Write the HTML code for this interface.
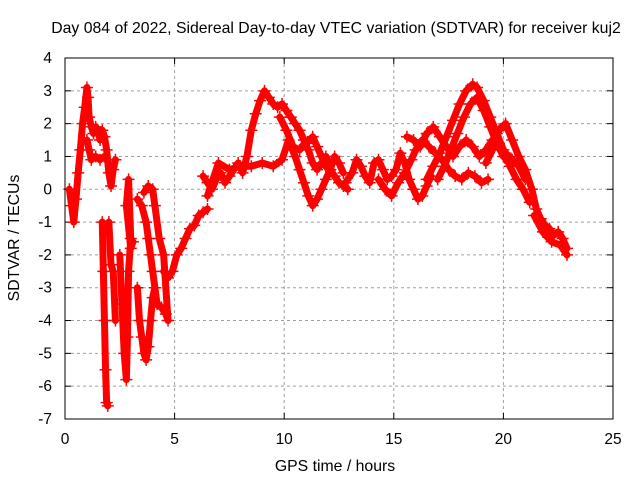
<!DOCTYPE html>
<html><head><meta charset="utf-8"><style>
body{margin:0;background:#fff;}
svg{display:block;font-family:"Liberation Sans",sans-serif;}
</style></head><body>
<svg id="chart" width="640" height="480">
<text x="336" y="33" font-size="15.8" text-anchor="middle">Day 084 of 2022, Sidereal Day-to-day VTEC variation (SDTVAR) for receiver kuj2</text>
<text x="335" y="471" font-size="15.8" text-anchor="middle">GPS time / hours</text>
<text transform="translate(19,238) rotate(-90)" font-size="15.8" text-anchor="middle">SDTVAR / TECUs</text>
<g id="grid"></g><g id="ticks"></g><g id="marks"></g>
<rect x="65" y="58" width="548" height="361" fill="none" stroke="#000" stroke-width="1"/>
</svg>
<script>
const xTicks=[0,5,10,15,20,25];
const yTicks=[-7,-6,-5,-4,-3,-2,-1,0,1,2,3,4];
const trackA=[[0.2,0],[0.3,-0.5],[0.4,-1],[0.5,-0.3],[0.6,0.5],[0.7,1.2],[0.8,2],[0.9,2.5],[1.0,3.1],[1.05,2.8],[1.1,2.2],[1.2,1.9],[1.3,1.7],[1.4,1.9],[1.5,1.8],[1.6,1.5],[1.7,1.8],[1.8,1.6],[1.9,1.2],[2.0,0.5],[2.1,0.1],[2.2,0.6],[2.3,0.9]];
const trackA2=[[1.0,1.5],[1.1,1.2],[1.2,0.9],[1.4,1.0],[1.6,0.9],[1.8,1.0]];
const trackB=[[1.7,-1],[1.75,-2.5],[1.8,-4],[1.85,-5.5],[1.9,-6.5],[1.95,-6.6]];
const trackB2=[[2.0,-1],[2.1,-2.3],[2.2,-2.5],[2.3,-4]];
const trackC=[[2.5,-2],[2.6,-3.5],[2.7,-5],[2.8,-5.8],[2.85,-4.5],[2.9,-2.5],[3.0,-1.5],[2.9,0.3],[2.8,-0.5],[3.0,-1.8],[3.1,-1.6]];
const trackD=[[3.3,-0.3],[3.5,-0.5],[3.7,-1],[3.8,-1.5],[3.9,-2.0],[4.0,-2.5],[4.1,-3],[4.2,-3.5],[4.4,-3.6],[4.6,-3.8],[4.7,-4],[4.5,-2],[4.3,-1.5],[4.1,-0.5],[4.0,0],[3.8,0.1],[3.6,-0.1]];
const trackE=[[3.3,-3],[3.4,-4],[3.5,-4.5],[3.6,-5],[3.7,-5.2],[3.8,-4.8],[3.9,-4],[4.0,-3.3],[4.1,-3]];
const trackF=[[4.5,-2.5],[4.7,-2.7],[4.9,-2.5],[5.1,-2],[5.3,-1.8],[5.5,-1.5],[5.7,-1.2],[5.9,-1.1],[6.1,-0.8],[6.3,-0.7],[6.5,-0.6]];
const trackG=[[6.3,0.4],[6.5,0.2],[6.7,0],[6.9,0.3],[7.1,0.5],[7.3,0.2],[7.5,0.4],[7.7,0.6],[7.9,0.8],[8.1,0.5],[8.3,1.0],[8.5,1.8],[8.7,2.3],[8.9,2.7],[9.1,3.0],[9.3,2.8],[9.5,2.6],[9.7,2.5],[9.9,2.6],[10.1,2.4],[10.3,2.2],[10.5,2.0],[10.7,1.8],[10.9,1.5],[11.1,1.2],[11.3,0.8],[11.5,0.6],[11.7,0.8],[11.9,1.0],[12.1,0.6],[12.3,0.4],[12.5,0.2],[12.7,0.1],[12.9,0.0]];
const trackH=[[6.5,-0.2],[7,0.8],[7.5,0.6],[8,0.7],[8.5,0.7],[9,0.8],[9.5,0.7],[9.9,0.9],[10.2,1.5],[10.5,1.0],[10.7,0.6],[10.9,0.2],[11.1,-0.2],[11.3,-0.5],[11.5,-0.3],[11.7,0],[11.9,0.3],[12.1,0.6],[12.3,1.0],[12.5,0.8],[12.7,0.5]];
const trackI=[[9.8,2.2],[10.1,1.8],[10.4,1.3],[10.7,1.2],[11.0,1.4],[11.3,1.6],[11.5,1.3],[11.7,1.0],[11.9,0.7]];
const trackJ=[[12.8,0.2],[13.1,0.5],[13.3,0.9],[13.5,0.7],[13.7,0.4],[13.9,0.2],[14.1,0.8],[14.3,0.9],[14.5,0.6],[14.7,0.3],[14.9,0.4],[15.1,0.6],[15.3,1.1],[15.5,0.8],[15.7,0.3],[15.9,0],[16.1,-0.3],[16.3,-0.2],[16.5,0.1],[16.7,0.4]];
const trackK=[[14.3,0.3],[14.6,0.0],[14.9,-0.2],[15.2,0.2],[15.5,0.5],[15.8,0.9],[16.0,1.2],[16.3,1.5],[16.6,1.3],[16.9,1.1],[17.2,0.9],[17.5,0.6],[17.8,0.4],[18.1,0.3],[18.4,0.5],[18.7,0.4],[19.0,0.2],[19.3,0.3]];
const trackL=[[15.6,1.6],[15.9,1.5],[16.2,1.3],[16.5,1.7],[16.8,1.9],[17.1,1.6],[17.4,1.3],[17.7,1.0],[18.0,1.3],[18.3,1.5],[18.6,1.3],[18.9,1.0],[19.2,1.2],[19.5,1.5],[19.8,1.4],[20.1,1.1],[20.4,0.9],[20.7,0.7],[21.0,0.3]];
const trackM=[[16.5,0.3],[16.8,0.7],[17.1,1.1],[17.4,1.6],[17.7,2.1],[18.0,2.6],[18.3,3.0],[18.6,3.2],[18.8,3.1],[19.1,2.7],[19.4,2.2],[19.7,1.7],[20.0,1.2],[20.3,0.7],[20.6,0.3],[20.9,0.0],[21.2,-0.4]];
const trackN=[[17.0,0.3],[17.3,0.7],[17.6,1.2],[17.9,1.7],[18.2,2.2],[18.5,2.6],[18.8,2.8],[19.1,2.4],[19.4,1.9],[19.7,1.4],[20.0,1.0],[20.3,0.8]];
const trackO=[[19.2,0.8],[19.5,1.2],[19.8,1.8],[20.1,2.0],[20.4,1.5],[20.7,1.0],[21.0,0.6],[21.3,0.0],[21.5,-0.6],[21.7,-0.9],[21.9,-1.1],[22.1,-1.2],[22.3,-1.4],[22.5,-1.3],[22.7,-1.5],[22.9,-1.8]];
const trackO2=[[21.4,-0.8],[21.8,-1.3],[22.2,-1.6],[22.6,-1.7],[22.9,-2.0]];
const tracks=[trackA,trackA2,trackB,trackB2,trackC,trackD,trackE,trackF,trackG,trackH,trackI,trackJ,trackK,trackL,trackM,trackN,trackO,trackO2];

const X0=65,X1=613,Y0=419,Y1=58;
function sx(v){return X0+(v-0)/(25-0)*(X1-X0);}
function sy(v){return Y0-(v-(-7))/(4-(-7))*(Y0-Y1);}
const NS="http://www.w3.org/2000/svg";
function mk(tag,attrs,parent){const e=document.createElementNS(NS,tag);for(const k in attrs)e.setAttribute(k,attrs[k]);parent.appendChild(e);return e;}
const grid=document.getElementById('grid'),ticks=document.getElementById('ticks'),marks=document.getElementById('marks');
xTicks.forEach(t=>{
  const x=sx(t);
  if(t>0&&t<25){const g=mk('line',{x1:x,x2:x,y1:Y1,y2:Y0,stroke:'#a0a0a0','stroke-dasharray':'3,3'},grid);
  
  }
  mk('line',{x1:x,x2:x,y1:Y0,y2:Y0-6,stroke:'#000'},ticks);
  mk('line',{x1:x,x2:x,y1:Y1,y2:Y1+6,stroke:'#000'},ticks);
  const l=mk('text',{x:x,y:444,'font-size':15.5,'text-anchor':'middle'},ticks);l.textContent=t;
  
  
});
yTicks.forEach(t=>{
  const y=sy(t);
  if(t>-7&&t<4){const g=mk('line',{x1:X0,x2:X1,y1:y,y2:y,stroke:'#a0a0a0','stroke-dasharray':'3,3'},grid);
  
  }
  mk('line',{x1:X0,x2:X0+6,y1:y,y2:y,stroke:'#000'},ticks);
  mk('line',{x1:X1,x2:X1-6,y1:y,y2:y,stroke:'#000'},ticks);
  const l=mk('text',{x:52,y:y+5,'font-size':15.5,'text-anchor':'end'},ticks);l.textContent=t;
  
  
});
tracks.forEach(tr=>{
  const pl=mk('polyline',{points:tr.map(p=>sx(p[0])+','+sy(p[1])).join(' '),fill:'none',stroke:'#f00','stroke-width':7,'stroke-linejoin':'round','stroke-linecap':'round'},marks);
  
  
  tr.forEach(p=>{
    const x=sx(p[0]),y=sy(p[1]);
    const m=mk('path',{d:`M${x-6},${y}H${x+6}M${x},${y-6}V${y+6}`,stroke:'#f00','stroke-width':1.5},marks);
    
    
  });
});
</script>
</body></html>
